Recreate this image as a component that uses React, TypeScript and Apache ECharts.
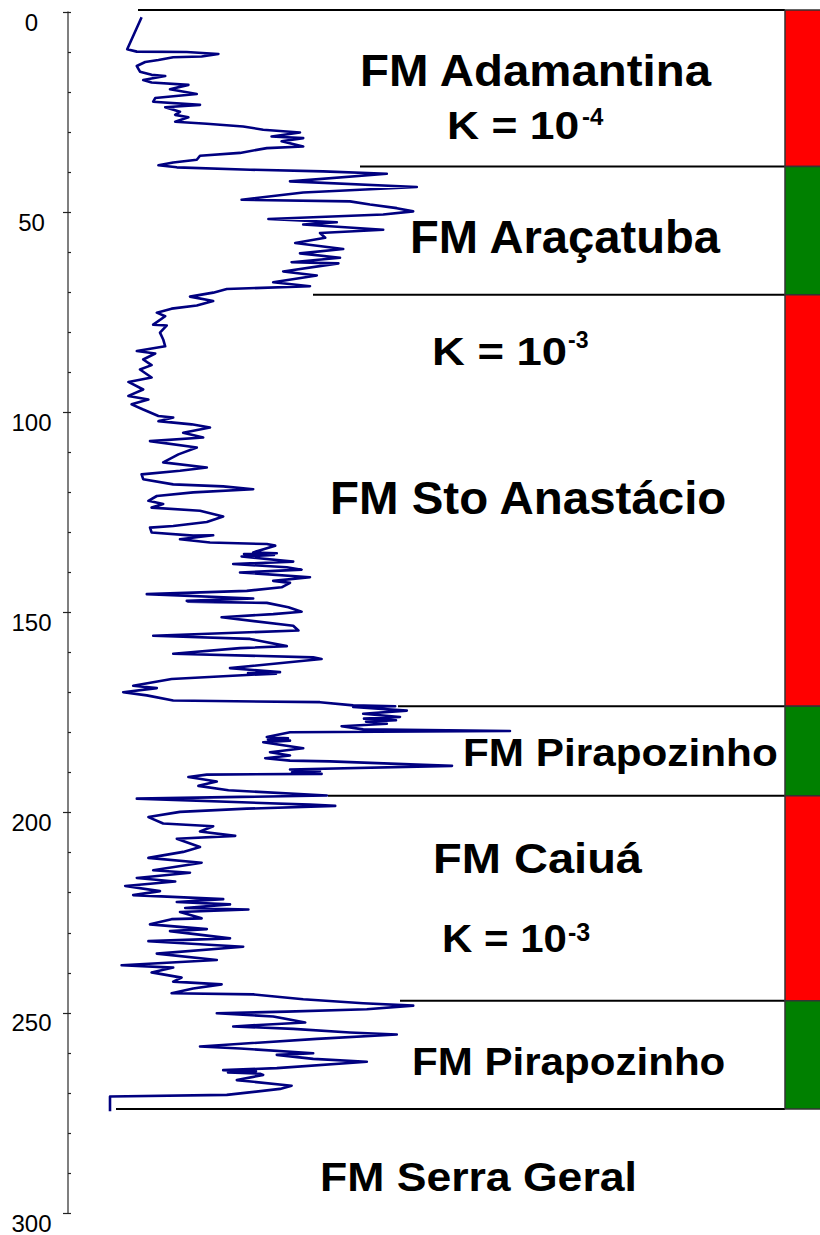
import React, { useEffect, useRef } from 'react';
import * as echarts from 'echarts';

// Well log: [depth (m), log value]
const logCurve: [number, number][] = [
  [1.3, 18.4], [9.3, 14.8], [9.9, 17.2], [10.0, 29.7], [10.5, 37.6], [11.1, 33.4], [11.3, 26.3],
  [12.0, 22.6], [12.5, 19.3], [13.5, 17.2], [14.9, 18.0], [15.7, 20.9], [16.0, 24.3], [17.0, 18.8],
  [17.6, 20.9], [18.2, 30.1], [19.3, 25.5], [20.5, 32.2], [21.5, 21.8], [22.4, 21.3], [23.2, 33.0],
  [23.8, 24.3], [24.9, 28.0], [25.7, 26.8], [26.3, 30.1], [27.4, 26.8], [27.9, 34.7], [28.6, 43.8],
  [29.4, 48.8], [30.1, 58.0], [31.1, 50.9], [31.5, 58.8], [32.3, 53.4], [33.6, 58.8], [34.0, 49.7],
  [35.2, 43.0], [35.9, 33.0], [36.9, 32.2], [37.6, 26.3], [38.3, 22.6], [38.8, 27.2], [39.4, 45.5],
  [39.8, 63.8], [40.4, 79.7], [42.3, 55.5], [43.7, 87.2], [45.1, 58.8], [46.9, 43.4], [47.3, 70.5],
  [48.1, 75.5], [49.0, 82.2], [49.8, 86.3], [50.6, 78.8], [51.7, 50.1], [52.5, 67.2], [53.1, 58.8],
  [54.4, 78.8], [55.2, 63.0], [56.4, 64.3], [57.7, 56.8], [59.2, 68.8], [60.3, 58.0], [61.4, 68.0],
  [62.5, 55.9], [62.8, 67.6], [64.8, 53.8], [65.8, 62.2], [67.5, 51.3], [68.5, 60.5], [69.2, 39.7],
  [70.1, 36.3], [71.1, 30.5], [72.2, 36.3], [73.3, 32.2], [74.1, 25.9], [75.1, 22.2], [76.0, 24.3],
  [78.1, 21.3], [78.3, 24.7], [80.1, 23.0], [81.8, 23.8], [83.5, 24.3], [84.7, 17.2], [85.3, 21.8],
  [86.8, 18.8], [88.2, 20.9], [89.3, 18.0], [91.3, 20.9], [92.4, 15.1], [94.3, 18.8], [95.9, 15.1],
  [96.8, 20.1], [98.0, 15.9], [99.3, 18.8], [100.9, 22.6], [101.3, 26.3], [102.2, 22.6], [103.0, 30.9],
  [103.8, 35.5], [105.1, 28.8], [106.3, 33.8], [107.2, 20.5], [108.8, 32.2], [110.5, 27.6], [112.5, 23.8],
  [113.8, 34.7], [114.6, 28.0], [115.5, 18.4], [116.7, 18.8], [118.0, 26.3], [118.5, 38.8], [119.2, 46.3],
  [120.0, 31.3], [120.9, 22.2], [122.1, 20.1], [122.9, 23.8], [123.8, 20.9], [124.6, 33.0], [126.0, 38.8],
  [127.4, 34.7], [128.4, 26.3], [128.8, 20.5], [130.0, 20.9], [130.8, 31.3], [130.7, 36.3], [131.7, 28.0],
  [132.5, 35.5], [132.9, 49.7], [133.3, 51.8], [135.0, 46.3], [135.2, 52.2], [135.4, 44.0], [135.6, 51.5],
  [136.0, 43.4], [137.3, 56.3],
  [137.9, 41.3], [138.7, 54.7], [139.3, 58.4], [140.0, 43.0], [141.2, 60.5], [142.1, 51.3], [142.6, 55.5],
  [143.7, 53.4], [144.6, 44.7], [145.4, 19.7], [146.5, 46.3], [147.1, 29.7], [147.2, 37.5], [147.3, 30.0],
  [147.4, 37.5], [147.6, 49.7], [148.7, 55.1],
  [149.8, 58.4], [150.4, 51.3], [151.2, 38.4], [153.3, 56.3], [154.5, 57.6], [155.8, 21.3], [156.6, 45.5],
  [158.4, 54.7], [158.9, 43.0], [160.3, 26.3], [161.2, 61.3], [161.6, 63.4], [163.9, 40.5], [164.9, 53.0],
  [165.1, 45.0], [165.3, 52.0], [165.6, 44.7], [166.6, 25.9], [168.3, 16.3], [168.9, 22.2], [169.9, 13.8],
  [170.7, 19.7], [172.0, 26.3],
  [172.4, 63.0], [173.2, 71.3], [173.4, 81.8], [173.6, 71.3], [174.5, 84.7], [175.3, 73.8], [176.1, 83.0],
  [176.5, 74.0], [176.9, 82.0], [177.3, 74.5],
  [177.8, 79.7], [178.4, 68.4], [179.2, 73.8], [179.6, 110.5], [179.9, 55.5], [181.1, 49.7], [181.4, 55.0],
  [181.7, 50.0], [182.0, 55.5],
  [182.4, 48.8], [183.9, 58.8], [184.9, 50.5], [185.7, 55.5], [186.4, 49.3], [187.0, 55.5], [187.2, 65.5],
  [188.3, 96.0], [189.2, 55.5], [189.6, 63.0], [189.9, 56.0], [190.3, 63.4], [190.5, 34.7], [191.1, 30.1],
  [192.2, 37.2], [193.3, 32.6],
  [194.4, 40.1], [195.7, 64.7], [196.5, 17.2], [198.0, 60.5], [198.3, 66.8], [199.0, 44.7], [199.8, 28.0],
  [201.1, 20.1], [202.7, 23.8], [203.4, 36.3], [204.7, 33.0], [205.8, 41.8], [206.5, 27.2], [208.6, 33.0],
  [209.8, 28.8], [211.3, 20.1], [212.5, 33.4], [214.4, 21.3], [215.0, 30.5], [216.3, 17.2], [217.2, 26.8],
  [218.3, 14.3], [219.6, 23.0], [220.6, 16.3], [221.6, 38.8], [222.3, 27.2], [222.9, 40.5], [223.8, 29.3],
  [224.2, 45.1], [224.8, 28.0], [226.4, 33.4], [226.6, 25.9], [227.9, 20.5], [229.1, 34.7], [229.6, 25.5],
  [231.4, 40.5], [232.1, 20.1], [233.5, 43.8], [235.2, 22.2], [236.8, 37.2], [238.1, 13.4], [238.7, 26.3],
  [239.9, 20.9], [241.2, 28.4], [242.2, 26.3], [242.9, 38.4], [243.9, 31.3], [245.1, 25.9], [245.4, 46.3],
  [246.6, 58.8], [247.6, 73.8], [248.2, 86.3], [249.1, 74.7], [249.7, 54.7], [250.1, 37.2], [250.9, 51.3],
  [252.4, 59.3], [253.4, 41.3], [254.0, 56.3], [254.9, 70.5], [255.4, 82.2], [256.5, 62.2], [258.4, 33.0],
  [258.9, 43.0], [260.1, 61.3], [260.5, 52.2], [261.5, 61.3], [262.2, 74.7], [263.8, 52.2], [264.3, 38.8],
  [264.6, 47.0], [264.9, 40.0], [265.2, 48.0],
  [265.5, 48.8], [266.8, 42.2], [268.2, 55.9], [269.0, 53.0], [270.5, 39.7], [270.9, 10.5], [274.6, 10.5],
];

const depthMin = 0;
const depthMax = 300;
const depthInterval = 50;

// Formation boundaries: depth and where the line starts (log units)
const boundaryDepths = [-0.5, 38.6, 70.6, 173.4, 195.8, 247.0, 274.0];
const boundaryStarts = [17.5, 73, 61.25, 82.5, 65, 83, 12];

// Permeability column zones
const zoneTops = [-0.5, 38.6, 70.6, 173.4, 195.8, 247.0];
const zoneBottoms = [38.6, 70.6, 173.4, 195.8, 247.0, 274.0];
const zoneColors = ['#FF0000', '#008000', '#FF0000', '#008000', '#FF0000', '#008000'];
const columnLeft = 179.25;
const columnRight = 190;

const FONT = '"Liberation Sans", Arial, Helvetica, sans-serif';

type Label = { text: string; x: number; y: number; size: number; sx: number };
const labels: Label[] = [
  { text: 'FM Adamantina', x: 360, y: 71.5, size: 44, sx: 1.077 },
  { text: 'K = 10', x: 447, y: 126.5, size: 38, sx: 1.17 },
  { text: 'FM Araçatuba', x: 410, y: 237, size: 45.5, sx: 1.037 },
  { text: 'K = 10', x: 432, y: 351, size: 39.5, sx: 1.15 },
  { text: 'FM Sto Anastácio', x: 330, y: 498, size: 47, sx: 1.01 },
  { text: 'FM Pirapozinho', x: 463, y: 752.5, size: 39.6, sx: 1.068 },
  { text: 'FM Caiuá', x: 433, y: 858.5, size: 43, sx: 1.094 },
  { text: 'K = 10', x: 442, y: 939, size: 39, sx: 1.077 },
  { text: 'FM Pirapozinho', x: 412, y: 1061.5, size: 38, sx: 1.108 },
  { text: 'FM Serra Geral', x: 320, y: 1176.5, size: 40.5, sx: 1.1 },
];
const superscripts: Label[] = [
  { text: '-4', x: 582, y: 116.5, size: 24, sx: 1 },
  { text: '-3', x: 568, y: 340, size: 23, sx: 1 },
  { text: '-3', x: 568, y: 932, size: 25, sx: 1 },
];

export default function App() {
  const ref = useRef<HTMLDivElement>(null);
  useEffect(() => {
    if (!ref.current) return;
    const chart = echarts.init(ref.current, null, { renderer: 'svg' });

    const boundarySeries = boundaryDepths.map((d, i) => ({
      type: 'line',
      data: [[boundaryStarts[i], d], [columnLeft, d]],
      symbol: 'none',
      clip: false,
      silent: true,
      lineStyle: { color: '#000', width: 2 },
      z: 3,
    }));

    const textEls = [...labels, ...superscripts].map((l) => ({
      type: 'text',
      x: l.x,
      y: l.y,
      scaleX: l.sx,
      z: 100,
      style: {
        text: l.text,
        fill: '#000',
        fontSize: l.size,
        fontWeight: 'bold',
        fontFamily: FONT,
        align: 'left',
        verticalAlign: 'middle',
      },
    }));

    chart.setOption({
      animation: false,
      backgroundColor: '#fff',
      grid: { left: 68, right: 0, top: 12, bottom: 20 },
      xAxis: { type: 'value', min: 0, max: 188, show: false },
      yAxis: [
        {
          type: 'value',
          inverse: true,
          min: depthMin,
          max: depthMax,
          interval: depthInterval,
          position: 'left',
          axisLine: { show: true, lineStyle: { color: '#555', width: 1.5 } },
          axisTick: { show: true, inside: false, length: 5, lineStyle: { color: '#222', width: 1.2 } },
          minorTick: { show: false },
          splitLine: { show: false },
          axisLabel: {
            show: true,
            color: '#000',
            fontSize: 24,
            fontFamily: FONT,
            align: 'center',
            verticalAlign: 'top',
            lineHeight: 20,
            margin: 36.5,
          },
        },
        {
          type: 'value',
          inverse: true,
          min: depthMin,
          max: depthMax,
          interval: depthInterval,
          position: 'left',
          axisLine: { show: false },
          axisTick: { show: true, inside: true, length: 3, lineStyle: { color: '#222', width: 1.2 } },
          minorTick: { show: true, splitNumber: 5, length: 3, lineStyle: { color: '#222', width: 1.2 } },
          splitLine: { show: false },
          axisLabel: { show: false },
        },
      ],
      series: [
        {
          type: 'line',
          data: logCurve.map(([d, v]) => [v, d]),
          symbol: 'none',
          showSymbol: false,
          lineStyle: { color: '#000080', width: 2.6, join: 'round' },
          z: 5,
        },
        ...boundarySeries,
        {
          type: 'custom',
          silent: true,
          clip: false,
          z: 4,
          encode: { x: [2, 3], y: [0, 1] },
          data: zoneTops.map((t, i) => [t, zoneBottoms[i], columnLeft, columnRight]),
          renderItem: (params: any, api: any) => {
            const p1 = api.coord([api.value(2), api.value(0)]);
            const p2 = api.coord([api.value(3), api.value(1)]);
            return {
              type: 'rect',
              shape: { x: p1[0], y: p1[1], width: p2[0] - p1[0], height: p2[1] - p1[1] },
              style: { fill: zoneColors[params.dataIndex], stroke: '#333', lineWidth: 1.5 },
            };
          },
        },
      ],
      graphic: textEls,
    });
    return () => chart.dispose();
  }, []);
  return (
    <div
      ref={ref}
      style={{ position: 'fixed', left: 0, top: 0, width: 820, height: 1235, background: '#fff' }}
    />
  );
}
